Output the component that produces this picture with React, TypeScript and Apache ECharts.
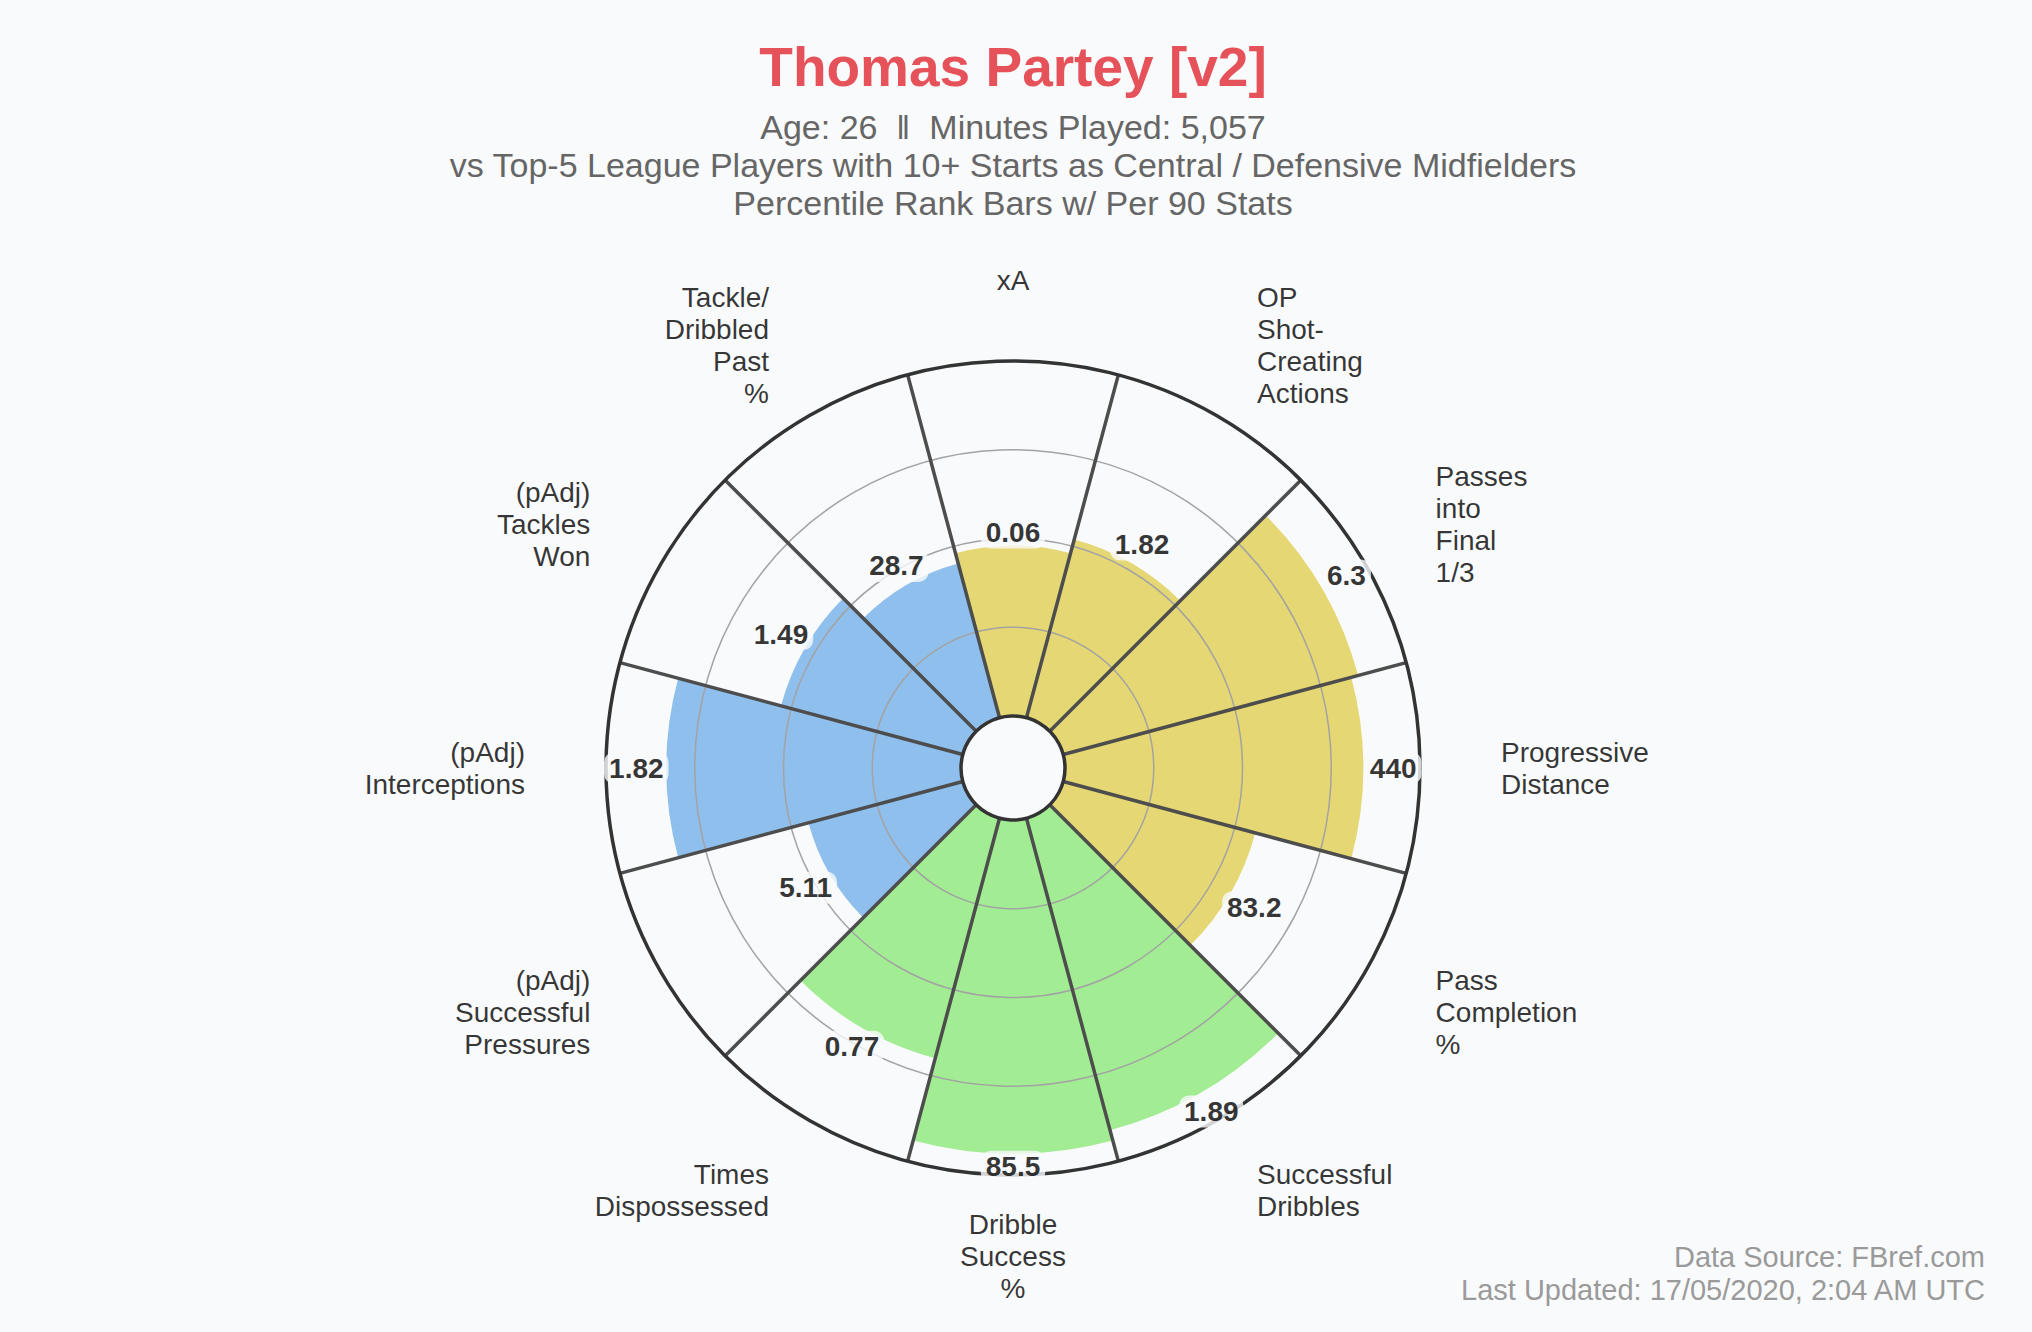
import React, { useEffect, useRef } from "react";
import * as echarts from "echarts";

const categories = [
  "xA",
  "OP\nShot-\nCreating\nActions",
  "Passes\ninto\nFinal\n1/3",
  "Progressive\nDistance",
  "Pass\nCompletion\n%",
  "Successful\nDribbles",
  "Dribble\nSuccess\n%",
  "Times\nDispossessed",
  "(pAdj)\nSuccessful\nPressures",
  "(pAdj)\nInterceptions",
  "(pAdj)\nTackles\nWon",
  "Tackle/\nDribbled\nPast\n%",
];

const percentiles = [48, 52, 86, 84, 56, 91, 94, 70, 45, 83, 53, 45];

const valueLabels = ["0.06", "1.82", "6.3", "440", "83.2", "1.89", "85.5", "0.77", "5.11", "1.82", "1.49", "28.7"];

const groups = [
  "attack", "attack", "attack", "attack", "attack",
  "possession", "possession", "possession",
  "defense", "defense", "defense", "defense",
];

const groupColors: Record<string, string> = {
  attack: "#e5d773",
  possession: "#a2ec93",
  defense: "#8fbfec",
};

const titleText = "Thomas Partey [v2]";
const subtitleLines = [
  "Age: 26  \u2016  Minutes Played: 5,057",
  "vs Top-5 League Players with 10+ Starts as Central / Defensive Midfielders",
  "Percentile Rank Bars w/ Per 90 Stats",
];
const footerLines = ["Data Source: FBref.com", "Last Updated: 17/05/2020, 2:04 AM UTC"];

const FONT = '"Liberation Sans", Arial, Helvetica, sans-serif';

export default function App() {
  const ref = useRef<HTMLDivElement | null>(null);

  useEffect(() => {
    if (!ref.current) return;
    const chart = echarts.init(ref.current, undefined, { renderer: "svg" });

    const cx = 1013;
    const cy = 768;
    const r0 = 52;
    const r1 = 407;
    const pxPerUnit = (r1 - r0) / 100;
    const n = categories.length;
    const step = 360 / n;

    const valueLabelData = percentiles.map((v, i) => {
      const th = (i * step * Math.PI) / 180;
      const offPx = 13 + 17 * Math.abs(Math.sin(th));
      return {
        value: [v + offPx / pxPerUnit, i],
        label: { formatter: valueLabels[i] },
      };
    });

    const catLabelRadius = (488 - r0) / pxPerUnit;
    const catLabelData = categories.map((c, i) => {
      const s = Math.sin((i * step * Math.PI) / 180);
      const align = s > 0.3 ? "left" : s < -0.3 ? "right" : "center";
      return {
        value: [catLabelRadius, i],
        label: { formatter: c, align },
      };
    });

    const graphics: any[] = [
      {
        type: "text",
        x: cx,
        y: 67,
        z: 100,
        style: {
          text: titleText,
          fill: "#e6525a",
          font: `bold 55px ${FONT}`,
          align: "center",
          verticalAlign: "middle",
        },
      },
      ...subtitleLines.map((t, i) => ({
        type: "text",
        x: cx,
        y: 127 + i * 38,
        z: 100,
        style: {
          text: t,
          fill: "#666666",
          font: `34px ${FONT}`,
          align: "center",
          verticalAlign: "middle",
        },
      })),
      ...footerLines.map((t, i) => ({
        type: "text",
        x: 1985,
        y: 1257 + i * 33,
        z: 100,
        style: {
          text: t,
          fill: "#9a9a9a",
          font: `29px ${FONT}`,
          align: "right",
          verticalAlign: "middle",
        },
      })),
    ];

    chart.setOption({
      animation: false,
      backgroundColor: "#f9fafb",
      textStyle: { fontFamily: FONT },
      polar: { center: [cx, cy], radius: [r0, r1] },
      angleAxis: {
        type: "category",
        data: categories,
        startAngle: 90 + step / 2,
        clockwise: true,
        boundaryGap: true,
        z: 5,
        axisLine: { show: true, lineStyle: { color: "#333333", width: 3.5 } },
        axisTick: { show: false },
        axisLabel: { show: false },
        splitLine: { show: true, lineStyle: { color: "#4d4d4d", width: 3.5 } },
      },
      radiusAxis: {
        type: "value",
        min: 0,
        max: 100,
        interval: 25,
        z: 4,
        axisLine: { show: false },
        axisTick: { show: false },
        axisLabel: { show: false },
        splitLine: { show: true, lineStyle: { color: "#a3a3a3", width: 1.5 } },
      },
      series: [
        {
          type: "bar",
          coordinateSystem: "polar",
          barCategoryGap: "0%",
          z: 2,
          data: percentiles.map((v, i) => ({
            value: v,
            itemStyle: { color: groupColors[groups[i]] },
          })),
        },
        {
          type: "scatter",
          coordinateSystem: "polar",
          symbolSize: 0,
          clip: false,
          z: 10,
          silent: true,
          data: valueLabelData,
          label: {
            show: true,
            position: "inside",
            color: "#000000",
            fontWeight: "bold",
            fontSize: 28,
            fontFamily: FONT,
            backgroundColor: "#f9fafb",
            padding: [2, 5],
            borderRadius: 10,
          },
        },
        {
          type: "scatter",
          coordinateSystem: "polar",
          symbolSize: 0,
          clip: false,
          z: 10,
          silent: true,
          data: catLabelData,
          label: {
            show: true,
            position: "inside",
            color: "#000000",
            fontSize: 28,
            lineHeight: 32,
            fontFamily: FONT,
            verticalAlign: "middle",
          },
        },
      ],
      graphic: graphics,
    });

    return () => chart.dispose();
  }, []);

  return (
    <div
      ref={ref}
      style={{ position: "fixed", left: 0, top: 0, width: 2032, height: 1332, background: "#f9fafb" }}
    />
  );
}
